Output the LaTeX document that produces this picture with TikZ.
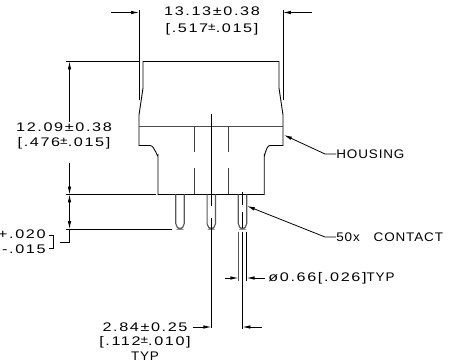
\documentclass[tikz,border=0pt]{standalone}
\usepackage{fontspec}
\setmainfont[FakeStretch=1.3,LetterSpace=13]{Liberation Sans}
\newfontfamily\capsfont[FakeStretch=1.08,LetterSpace=7]{Liberation Sans}
\usetikzlibrary{arrows.meta, positioning, calc}
\tikzstyle{outline} = [draw, line width=0.5pt]
\tikzstyle{dimline} = [draw, line width=0.45pt]
\tikzstyle{dimarrow} = [draw, line width=0.45pt, -{Latex[length=4.5pt,width=2pt]}]
\tikzstyle{dimtext} = [inner sep=0pt, font=\fontsize{7.1}{10}\selectfont, align=center]
\tikzstyle{pinline} = [draw=black!65, line width=0.65pt, rounded corners=3pt]
\newcommand{\tolpm}{\raisebox{1.2pt}{\scalebox{.85}{±}}}

\begin{document}
\begin{tikzpicture}[x=0.02cm, y=-0.02cm]
            \useasboundingbox (0,0) rectangle (450,364);

            % Coordinates
            \coordinate (dimtl) at (139,10);
            \coordinate (dimtr) at (283,10);
            \coordinate (dimbl) at (139,100);
            \coordinate (dimbr) at (283,100);

            % Labels
            \node [dimtext] (width) at (212,21) {13.13±0.38\\{[}.517\tolpm.015]};
            \node [dimtext] (height) at (64,136) {12.09±0.38\\[-1pt]{[}.476\tolpm.015]};
            \node [dimtext, anchor=east] (plusval) at (46,234) {+.020};
            \node [dimtext, anchor=east] (minusval) at (46,249) {-.015};
            \node [dimtext, anchor=west] (housing) at (336,154) {\capsfont HOUSING};
            \node [dimtext, anchor=west] (contact) at (336,237) {\capsfont 50x\ \ \ CONTACT};
            \node [dimtext, anchor=west] (dia) at (268,278) {ø0.66[.026]{\capsfont TYP}};
            \node [dimtext] (pitch) at (145,341.5) {2.84±0.25\\[-1.8pt]{[}.112\tolpm.010]\\[-1.8pt]{\capsfont TYP}};

            % Housing
            \path [outline] (143,61.5) -- (279,61.5) -- (279,88) -- (283,115) -- (283,145.5) -- (270,145.5)
                to[out=180, in=-90] (264.3,155) -- (264.3,194.5) -- (158,194.5) -- (158,155)
                to[out=-90, in=0] (150,145.5) -- (139,145.5) -- (139,115) -- (143,88) -- cycle;
            \path [outline, draw=black!70] (139,126) -- (283,126);
            \path [dimline, draw=black!75] (194.5,126) -- (194.5,152) (194.5,168) -- (194.5,194.5);
            \path [dimline, draw=black!75] (228,126) -- (228,152) (228,168) -- (228,194.5);

            % Pins
            \foreach \px in {180, 211.3, 242.5} {
                \path [pinline] (\px-4.2,194.5) -- (\px-4.2,229) -- (\px+4.2,229) -- (\px+4.2,194.5);
            }

            % Lines
            \path [dimline] (dimtl) -- (dimbl);
            \path [dimline] (dimtr) -- (dimbr);
            \coordinate (awl) at (111,12.5);
            \coordinate (awr) at (312,12.5);
            \path [dimarrow] (awl) -- (dimtl |- awl);
            \path [dimarrow] (awr) -- (dimtr |- awr);

            \path [dimline] (66,61.5) -- (140,61.5);
            \path [dimline] (66,194.5) -- (156,194.5);
            \path [dimline] (66,229) -- (172,229);
            \path [dimarrow] (69.5,122) -- (69.5,61.5);
            \path [dimarrow] (69.5,163) -- (69.5,194.5);
            \path [dimarrow] (69.5,212) -- (69.5,194.5);
            \path [dimarrow] (69.5,212) -- (69.5,229);
            \path [dimline] (69.5,229) -- (69.5,242.5) -- (60,242.5);
            \path [dimline] (49,235) -- (53,235) -- (53,248) -- (49,248);

            \path [dimline] (211.3,114) -- (211.3,206) (211.3,218) -- (211.3,328);
            \path [dimline] (242.5,192) -- (242.5,205) (242.5,212) -- (242.5,228);
            \path [dimline] (242.5,232) -- (242.5,329);
            \path [dimline, draw=black!65] (238.3,232) -- (238.3,281);
            \path [dimline] (246.7,232) -- (246.7,281);
            \path [dimarrow] (225,278) -- (238.3,278);
            \path [dimarrow] (265,278) -- (246.7,278);
            \path [dimarrow] (192.5,327) -- (211.3,327);
            \path [dimarrow] (262,327) -- (242.5,327);

            % Leaders
            \path [dimarrow] (housing.west) -- (325,154) -- (284,135);
            \path [dimarrow] (contact.west) -- (325,237) -- (247,206);
        \end{tikzpicture}
\end{document}
